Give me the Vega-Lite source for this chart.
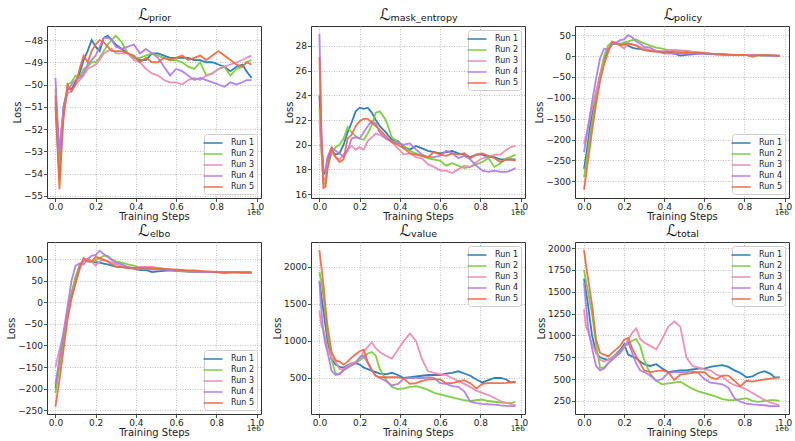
{
  "$schema": "https://vega.github.io/schema/vega-lite/v6.json",
  "autosize": {"type": "pad"},
  "padding": {"left": 6, "top": 6, "right": 5, "bottom": 5},
  "background": "white",
  "config": {
    "font": "DejaVu Sans",
    "view": {"stroke": "#333", "strokeWidth": 1},
    "axis": {
      "labelFont": "DejaVu Sans", "labelFontSize": 9, "labelColor": "#222",
      "titleFont": "DejaVu Sans", "titleFontSize": 10, "titleFontWeight": "normal", "titleColor": "#222",
      "tickColor": "#222", "tickSize": 3.5, "tickWidth": 0.8, "domain": false,
      "grid": true, "gridColor": "#b0b0b0", "gridDash": [1, 1.5], "gridWidth": 0.8,
      "labelPadding": 1, "labelOverlap": false, "labelFlush": false, "tickCount": 20
    },
    "axisX": {"titlePadding": 0},
    "axisY": {"titlePadding": 1},
    "legend": {
      "title": null, "symbolType": "M-1.9,0H1.9", "symbolSize": 100, "symbolStrokeWidth": 1.6,
      "symbolOpacity": 0.8, "labelFont": "DejaVu Sans", "labelFontSize": 8, "labelColor": "#222",
      "rowPadding": 1, "padding": 3, "fillColor": "rgba(255,255,255,0.85)", "strokeColor": "#ccc",
      "cornerRadius": 3, "labelOffset": 12, "offset": 4
    },
    "title": {
      "font": "DejaVu Sans", "fontSize": 16, "fontWeight": "normal", "color": "#111",
      "subtitleFont": "DejaVu Sans", "subtitleFontSize": 9.5, "subtitleColor": "#111",
      "subtitlePadding": -10, "offset": 3, "anchor": "middle"
    },
    "line": {"strokeWidth": 1.8, "opacity": 0.95}
  },
  "datasets": {
    "prior": [
      {"s":0,"Run 1":-51.0,"Run 2":-50.2,"Run 3":-50.8,"Run 4":-49.7,"Run 5":-50.5},
      {"s":10000,"Run 1":-52.5,"Run 2":-52.0,"Run 3":-51.8,"Run 4":-51.5,"Run 5":-52.8},
      {"s":20000,"Run 1":-54.2,"Run 2":-53.7,"Run 3":-53.0,"Run 4":-53.2,"Run 5":-54.7},
      {"s":30000,"Run 1":-52.5,"Run 2":-52.3,"Run 3":-52.0,"Run 4":-52.0,"Run 5":-53.0},
      {"s":40000,"Run 1":-51.0,"Run 2":-51.5,"Run 3":-51.2,"Run 4":-51.0,"Run 5":-51.5},
      {"s":60000,"Run 1":-50.2,"Run 2":-50.0,"Run 3":-50.4,"Run 4":-50.3,"Run 5":-50.0},
      {"s":80000,"Run 1":-50.2,"Run 2":-49.9,"Run 3":-50.3,"Run 4":-50.0,"Run 5":-50.3},
      {"s":100000,"Run 1":-49.9,"Run 2":-49.6,"Run 3":-50.0,"Run 4":-49.8,"Run 5":-50.0},
      {"s":120000,"Run 1":-49.5,"Run 2":-49.7,"Run 3":-49.8,"Run 4":-49.7,"Run 5":-49.3},
      {"s":140000,"Run 1":-48.9,"Run 2":-49.3,"Run 3":-49.6,"Run 4":-49.5,"Run 5":-48.7},
      {"s":160000,"Run 1":-48.5,"Run 2":-49.2,"Run 3":-49.3,"Run 4":-49.1,"Run 5":-49.0},
      {"s":180000,"Run 1":-48.0,"Run 2":-49.0,"Run 3":-49.2,"Run 4":-48.9,"Run 5":-48.5},
      {"s":200000,"Run 1":-48.3,"Run 2":-49.0,"Run 3":-49.1,"Run 4":-48.7,"Run 5":-48.2},
      {"s":220000,"Run 1":-48.5,"Run 2":-48.8,"Run 3":-48.9,"Run 4":-48.3,"Run 5":-48.0},
      {"s":240000,"Run 1":-47.9,"Run 2":-48.5,"Run 3":-48.6,"Run 4":-47.9,"Run 5":-48.1},
      {"s":260000,"Run 1":-47.8,"Run 2":-48.2,"Run 3":-48.5,"Run 4":-47.9,"Run 5":-48.3},
      {"s":280000,"Run 1":-48.0,"Run 2":-48.0,"Run 3":-48.4,"Run 4":-48.0,"Run 5":-48.5},
      {"s":300000,"Run 1":-48.2,"Run 2":-47.8,"Run 3":-48.6,"Run 4":-48.3,"Run 5":-48.5},
      {"s":330000,"Run 1":-48.4,"Run 2":-48.1,"Run 3":-48.6,"Run 4":-48.4,"Run 5":-48.5},
      {"s":360000,"Run 1":-48.6,"Run 2":-48.6,"Run 3":-48.6,"Run 4":-48.3,"Run 5":-48.6},
      {"s":390000,"Run 1":-48.8,"Run 2":-48.8,"Run 3":-48.9,"Run 4":-48.2,"Run 5":-48.7},
      {"s":420000,"Run 1":-48.9,"Run 2":-48.8,"Run 3":-49.0,"Run 4":-48.6,"Run 5":-49.0},
      {"s":450000,"Run 1":-48.9,"Run 2":-48.7,"Run 3":-49.3,"Run 4":-48.4,"Run 5":-48.8},
      {"s":480000,"Run 1":-48.6,"Run 2":-48.6,"Run 3":-49.5,"Run 4":-48.6,"Run 5":-49.0},
      {"s":510000,"Run 1":-48.6,"Run 2":-48.7,"Run 3":-49.6,"Run 4":-48.8,"Run 5":-49.0},
      {"s":540000,"Run 1":-48.7,"Run 2":-48.8,"Run 3":-49.8,"Run 4":-49.2,"Run 5":-48.8},
      {"s":570000,"Run 1":-48.8,"Run 2":-48.9,"Run 3":-49.9,"Run 4":-49.6,"Run 5":-48.9},
      {"s":600000,"Run 1":-48.8,"Run 2":-48.9,"Run 3":-49.9,"Run 4":-49.3,"Run 5":-48.8},
      {"s":630000,"Run 1":-48.8,"Run 2":-49.0,"Run 3":-50.0,"Run 4":-49.4,"Run 5":-48.7},
      {"s":660000,"Run 1":-48.8,"Run 2":-49.2,"Run 3":-49.8,"Run 4":-49.6,"Run 5":-48.9},
      {"s":690000,"Run 1":-48.9,"Run 2":-49.3,"Run 3":-49.7,"Run 4":-49.8,"Run 5":-48.8},
      {"s":720000,"Run 1":-48.9,"Run 2":-49.0,"Run 3":-49.8,"Run 4":-49.7,"Run 5":-48.7},
      {"s":750000,"Run 1":-49.0,"Run 2":-49.6,"Run 3":-49.6,"Run 4":-49.8,"Run 5":-48.9},
      {"s":780000,"Run 1":-49.0,"Run 2":-49.5,"Run 3":-49.5,"Run 4":-49.9,"Run 5":-48.7},
      {"s":810000,"Run 1":-49.1,"Run 2":-49.3,"Run 3":-49.3,"Run 4":-50.0,"Run 5":-48.5},
      {"s":840000,"Run 1":-49.2,"Run 2":-49.2,"Run 3":-49.2,"Run 4":-50.1,"Run 5":-48.7},
      {"s":870000,"Run 1":-49.4,"Run 2":-49.6,"Run 3":-49.1,"Run 4":-49.9,"Run 5":-48.9},
      {"s":900000,"Run 1":-49.2,"Run 2":-49.3,"Run 3":-49.0,"Run 4":-50.0,"Run 5":-49.1},
      {"s":930000,"Run 1":-49.1,"Run 2":-49.2,"Run 3":-48.9,"Run 4":-49.9,"Run 5":-49.2},
      {"s":950000,"Run 1":-49.4,"Run 2":-49.0,"Run 3":-48.8,"Run 4":-49.8,"Run 5":-49.0},
      {"s":975000,"Run 1":-49.7,"Run 2":-48.9,"Run 3":-48.7,"Run 4":-49.8,"Run 5":-49.1}
    ],
    "mask": [
      {"s":0,"Run 1":24.0,"Run 2":23.0,"Run 3":22.0,"Run 4":29.0,"Run 5":27.1},
      {"s":10000,"Run 1":20.0,"Run 2":19.5,"Run 3":19.5,"Run 4":21.0,"Run 5":20.5},
      {"s":20000,"Run 1":17.6,"Run 2":16.8,"Run 3":17.0,"Run 4":17.8,"Run 5":16.5},
      {"s":30000,"Run 1":17.8,"Run 2":16.9,"Run 3":17.4,"Run 4":18.0,"Run 5":16.6},
      {"s":40000,"Run 1":18.8,"Run 2":18.2,"Run 3":18.5,"Run 4":19.0,"Run 5":18.0},
      {"s":60000,"Run 1":19.5,"Run 2":19.3,"Run 3":19.4,"Run 4":19.8,"Run 5":19.7},
      {"s":80000,"Run 1":19.2,"Run 2":19.8,"Run 3":19.0,"Run 4":19.5,"Run 5":19.0},
      {"s":100000,"Run 1":19.3,"Run 2":20.0,"Run 3":18.8,"Run 4":19.3,"Run 5":18.6},
      {"s":120000,"Run 1":20.0,"Run 2":20.5,"Run 3":19.2,"Run 4":19.0,"Run 5":18.8},
      {"s":140000,"Run 1":21.0,"Run 2":21.4,"Run 3":19.6,"Run 4":19.5,"Run 5":20.5},
      {"s":160000,"Run 1":21.8,"Run 2":21.0,"Run 3":19.9,"Run 4":20.5,"Run 5":20.8},
      {"s":180000,"Run 1":22.7,"Run 2":20.7,"Run 3":19.6,"Run 4":20.6,"Run 5":21.5},
      {"s":200000,"Run 1":23.0,"Run 2":20.5,"Run 3":19.8,"Run 4":20.5,"Run 5":21.9},
      {"s":220000,"Run 1":22.9,"Run 2":20.4,"Run 3":19.6,"Run 4":21.0,"Run 5":22.1},
      {"s":240000,"Run 1":23.0,"Run 2":20.9,"Run 3":20.3,"Run 4":21.5,"Run 5":22.1},
      {"s":260000,"Run 1":22.6,"Run 2":21.6,"Run 3":20.6,"Run 4":21.9,"Run 5":21.8},
      {"s":280000,"Run 1":22.0,"Run 2":22.6,"Run 3":20.9,"Run 4":21.7,"Run 5":21.5},
      {"s":300000,"Run 1":21.5,"Run 2":22.7,"Run 3":20.8,"Run 4":21.0,"Run 5":21.2},
      {"s":330000,"Run 1":21.0,"Run 2":22.0,"Run 3":20.5,"Run 4":20.5,"Run 5":20.7},
      {"s":360000,"Run 1":20.4,"Run 2":20.6,"Run 3":20.2,"Run 4":20.3,"Run 5":20.2},
      {"s":390000,"Run 1":20.3,"Run 2":20.2,"Run 3":19.7,"Run 4":20.1,"Run 5":20.0},
      {"s":420000,"Run 1":19.8,"Run 2":19.9,"Run 3":19.2,"Run 4":20.0,"Run 5":19.7},
      {"s":450000,"Run 1":19.6,"Run 2":19.5,"Run 3":19.3,"Run 4":20.1,"Run 5":19.3},
      {"s":480000,"Run 1":19.9,"Run 2":19.3,"Run 3":19.0,"Run 4":19.6,"Run 5":19.2},
      {"s":510000,"Run 1":19.7,"Run 2":19.1,"Run 3":18.9,"Run 4":19.2,"Run 5":19.1},
      {"s":540000,"Run 1":19.5,"Run 2":18.9,"Run 3":18.4,"Run 4":19.0,"Run 5":19.0},
      {"s":570000,"Run 1":19.4,"Run 2":18.8,"Run 3":18.2,"Run 4":19.0,"Run 5":19.4},
      {"s":600000,"Run 1":19.3,"Run 2":18.7,"Run 3":17.9,"Run 4":19.1,"Run 5":19.2},
      {"s":630000,"Run 1":19.4,"Run 2":18.3,"Run 3":17.9,"Run 4":19.5,"Run 5":19.1},
      {"s":660000,"Run 1":19.5,"Run 2":18.5,"Run 3":17.7,"Run 4":19.3,"Run 5":19.3},
      {"s":690000,"Run 1":19.3,"Run 2":18.3,"Run 3":18.0,"Run 4":18.9,"Run 5":19.2},
      {"s":720000,"Run 1":19.2,"Run 2":18.1,"Run 3":18.3,"Run 4":19.1,"Run 5":19.3},
      {"s":750000,"Run 1":19.0,"Run 2":18.2,"Run 3":18.2,"Run 4":18.8,"Run 5":18.9},
      {"s":780000,"Run 1":19.2,"Run 2":18.4,"Run 3":18.6,"Run 4":18.3,"Run 5":19.2},
      {"s":810000,"Run 1":19.2,"Run 2":18.6,"Run 3":18.9,"Run 4":17.9,"Run 5":19.3},
      {"s":840000,"Run 1":19.0,"Run 2":18.9,"Run 3":19.0,"Run 4":17.8,"Run 5":19.1},
      {"s":870000,"Run 1":19.0,"Run 2":18.2,"Run 3":19.2,"Run 4":17.9,"Run 5":18.9},
      {"s":900000,"Run 1":18.8,"Run 2":18.5,"Run 3":19.2,"Run 4":17.8,"Run 5":18.6},
      {"s":930000,"Run 1":18.8,"Run 2":18.9,"Run 3":19.6,"Run 4":17.8,"Run 5":18.8},
      {"s":950000,"Run 1":18.8,"Run 2":19.0,"Run 3":19.8,"Run 4":17.9,"Run 5":18.8},
      {"s":975000,"Run 1":18.8,"Run 2":19.2,"Run 3":19.9,"Run 4":18.1,"Run 5":18.7}
    ],
    "policy": [
      {"s":0,"Run 1":-270,"Run 2":-290,"Run 3":-210,"Run 4":-230,"Run 5":-320},
      {"s":10000,"Run 1":-240,"Run 2":-260,"Run 3":-190,"Run 4":-200,"Run 5":-285},
      {"s":20000,"Run 1":-205,"Run 2":-225,"Run 3":-170,"Run 4":-170,"Run 5":-250},
      {"s":30000,"Run 1":-170,"Run 2":-190,"Run 3":-150,"Run 4":-140,"Run 5":-215},
      {"s":40000,"Run 1":-140,"Run 2":-160,"Run 3":-125,"Run 4":-110,"Run 5":-180},
      {"s":60000,"Run 1":-90,"Run 2":-100,"Run 3":-85,"Run 4":-55,"Run 5":-115},
      {"s":80000,"Run 1":-45,"Run 2":-45,"Run 3":-50,"Run 4":-5,"Run 5":-60},
      {"s":100000,"Run 1":-10,"Run 2":0,"Run 3":-15,"Run 4":18,"Run 5":-20},
      {"s":120000,"Run 1":15,"Run 2":25,"Run 3":10,"Run 4":15,"Run 5":10},
      {"s":140000,"Run 1":28,"Run 2":33,"Run 3":33,"Run 4":28,"Run 5":35},
      {"s":160000,"Run 1":30,"Run 2":30,"Run 3":33,"Run 4":32,"Run 5":30},
      {"s":180000,"Run 1":30,"Run 2":28,"Run 3":25,"Run 4":38,"Run 5":25},
      {"s":200000,"Run 1":28,"Run 2":33,"Run 3":18,"Run 4":40,"Run 5":28},
      {"s":220000,"Run 1":25,"Run 2":35,"Run 3":30,"Run 4":50,"Run 5":30},
      {"s":240000,"Run 1":20,"Run 2":38,"Run 3":28,"Run 4":45,"Run 5":28},
      {"s":260000,"Run 1":18,"Run 2":40,"Run 3":25,"Run 4":35,"Run 5":25},
      {"s":280000,"Run 1":17,"Run 2":35,"Run 3":22,"Run 4":30,"Run 5":18},
      {"s":300000,"Run 1":15,"Run 2":30,"Run 3":18,"Run 4":22,"Run 5":14},
      {"s":330000,"Run 1":13,"Run 2":25,"Run 3":15,"Run 4":20,"Run 5":12},
      {"s":360000,"Run 1":12,"Run 2":20,"Run 3":13,"Run 4":12,"Run 5":10},
      {"s":390000,"Run 1":10,"Run 2":18,"Run 3":12,"Run 4":7,"Run 5":10},
      {"s":420000,"Run 1":10,"Run 2":14,"Run 3":13,"Run 4":6,"Run 5":10},
      {"s":450000,"Run 1":6,"Run 2":14,"Run 3":14,"Run 4":6,"Run 5":10},
      {"s":480000,"Run 1":1,"Run 2":13,"Run 3":13,"Run 4":6,"Run 5":9},
      {"s":510000,"Run 1":3,"Run 2":13,"Run 3":12,"Run 4":6,"Run 5":9},
      {"s":540000,"Run 1":4,"Run 2":10,"Run 3":10,"Run 4":6,"Run 5":8},
      {"s":570000,"Run 1":6,"Run 2":8,"Run 3":9,"Run 4":6,"Run 5":8},
      {"s":600000,"Run 1":6,"Run 2":7,"Run 3":8,"Run 4":6,"Run 5":7},
      {"s":630000,"Run 1":5,"Run 2":5,"Run 3":6,"Run 4":5,"Run 5":6},
      {"s":660000,"Run 1":4,"Run 2":4,"Run 3":5,"Run 4":4,"Run 5":5},
      {"s":690000,"Run 1":4,"Run 2":3,"Run 3":4,"Run 4":4,"Run 5":4},
      {"s":720000,"Run 1":3,"Run 2":2,"Run 3":3,"Run 4":3,"Run 5":4},
      {"s":750000,"Run 1":3,"Run 2":2,"Run 3":3,"Run 4":2,"Run 5":3},
      {"s":780000,"Run 1":3,"Run 2":2,"Run 3":2,"Run 4":2,"Run 5":3},
      {"s":810000,"Run 1":2,"Run 2":2,"Run 3":2,"Run 4":2,"Run 5":3},
      {"s":840000,"Run 1":2,"Run 2":2,"Run 3":2,"Run 4":2,"Run 5":-2},
      {"s":870000,"Run 1":2,"Run 2":1,"Run 3":2,"Run 4":2,"Run 5":3},
      {"s":900000,"Run 1":1,"Run 2":1,"Run 3":1,"Run 4":2,"Run 5":2},
      {"s":930000,"Run 1":1,"Run 2":1,"Run 3":1,"Run 4":1,"Run 5":2},
      {"s":950000,"Run 1":1,"Run 2":1,"Run 3":1,"Run 4":1,"Run 5":1},
      {"s":975000,"Run 1":1,"Run 2":0,"Run 3":1,"Run 4":1,"Run 5":0}
    ],
    "elbo": [
      {"s":0,"Run 1":-200,"Run 2":-210,"Run 3":-150,"Run 4":-190,"Run 5":-242},
      {"s":10000,"Run 1":-170,"Run 2":-180,"Run 3":-130,"Run 4":-160,"Run 5":-210},
      {"s":20000,"Run 1":-140,"Run 2":-150,"Run 3":-110,"Run 4":-130,"Run 5":-180},
      {"s":30000,"Run 1":-110,"Run 2":-120,"Run 3":-90,"Run 4":-100,"Run 5":-145},
      {"s":40000,"Run 1":-80,"Run 2":-90,"Run 3":-70,"Run 4":-70,"Run 5":-110},
      {"s":60000,"Run 1":-20,"Run 2":-30,"Run 3":-30,"Run 4":-10,"Run 5":-40},
      {"s":80000,"Run 1":20,"Run 2":20,"Run 3":10,"Run 4":50,"Run 5":10},
      {"s":100000,"Run 1":55,"Run 2":60,"Run 3":45,"Run 4":85,"Run 5":45},
      {"s":120000,"Run 1":85,"Run 2":85,"Run 3":75,"Run 4":90,"Run 5":80},
      {"s":140000,"Run 1":98,"Run 2":98,"Run 3":98,"Run 4":88,"Run 5":103},
      {"s":160000,"Run 1":100,"Run 2":95,"Run 3":100,"Run 4":100,"Run 5":95},
      {"s":180000,"Run 1":95,"Run 2":93,"Run 3":95,"Run 4":108,"Run 5":95},
      {"s":200000,"Run 1":93,"Run 2":98,"Run 3":85,"Run 4":110,"Run 5":105},
      {"s":220000,"Run 1":92,"Run 2":102,"Run 3":95,"Run 4":120,"Run 5":103},
      {"s":240000,"Run 1":90,"Run 2":108,"Run 3":100,"Run 4":112,"Run 5":98},
      {"s":260000,"Run 1":88,"Run 2":108,"Run 3":95,"Run 4":105,"Run 5":95},
      {"s":280000,"Run 1":85,"Run 2":100,"Run 3":92,"Run 4":98,"Run 5":88},
      {"s":300000,"Run 1":83,"Run 2":95,"Run 3":88,"Run 4":92,"Run 5":83},
      {"s":330000,"Run 1":82,"Run 2":92,"Run 3":84,"Run 4":88,"Run 5":82},
      {"s":360000,"Run 1":80,"Run 2":88,"Run 3":82,"Run 4":82,"Run 5":80},
      {"s":390000,"Run 1":78,"Run 2":85,"Run 3":80,"Run 4":78,"Run 5":80},
      {"s":420000,"Run 1":75,"Run 2":80,"Run 3":82,"Run 4":77,"Run 5":80},
      {"s":450000,"Run 1":75,"Run 2":80,"Run 3":83,"Run 4":77,"Run 5":80},
      {"s":480000,"Run 1":70,"Run 2":80,"Run 3":82,"Run 4":76,"Run 5":79},
      {"s":510000,"Run 1":72,"Run 2":80,"Run 3":80,"Run 4":76,"Run 5":78},
      {"s":540000,"Run 1":73,"Run 2":78,"Run 3":77,"Run 4":76,"Run 5":77},
      {"s":570000,"Run 1":74,"Run 2":76,"Run 3":75,"Run 4":75,"Run 5":77},
      {"s":600000,"Run 1":73,"Run 2":74,"Run 3":74,"Run 4":74,"Run 5":76},
      {"s":630000,"Run 1":72,"Run 2":73,"Run 3":73,"Run 4":73,"Run 5":75},
      {"s":660000,"Run 1":72,"Run 2":71,"Run 3":72,"Run 4":72,"Run 5":74},
      {"s":690000,"Run 1":71,"Run 2":71,"Run 3":72,"Run 4":71,"Run 5":74},
      {"s":720000,"Run 1":71,"Run 2":70,"Run 3":71,"Run 4":71,"Run 5":73},
      {"s":750000,"Run 1":70,"Run 2":70,"Run 3":70,"Run 4":70,"Run 5":72},
      {"s":780000,"Run 1":70,"Run 2":70,"Run 3":70,"Run 4":70,"Run 5":71},
      {"s":810000,"Run 1":70,"Run 2":70,"Run 3":69,"Run 4":70,"Run 5":70},
      {"s":840000,"Run 1":70,"Run 2":69,"Run 3":69,"Run 4":70,"Run 5":68},
      {"s":870000,"Run 1":70,"Run 2":70,"Run 3":70,"Run 4":70,"Run 5":69},
      {"s":900000,"Run 1":70,"Run 2":70,"Run 3":69,"Run 4":70,"Run 5":70},
      {"s":930000,"Run 1":70,"Run 2":69,"Run 3":70,"Run 4":69,"Run 5":69},
      {"s":950000,"Run 1":69,"Run 2":69,"Run 3":69,"Run 4":69,"Run 5":70},
      {"s":975000,"Run 1":69,"Run 2":68,"Run 3":68,"Run 4":69,"Run 5":70}
    ],
    "value": [
      {"s":0,"Run 1":1800,"Run 2":1930,"Run 3":1400,"Run 4":1800,"Run 5":2220},
      {"s":10000,"Run 1":1600,"Run 2":1780,"Run 3":1200,"Run 4":1400,"Run 5":1980},
      {"s":20000,"Run 1":1400,"Run 2":1600,"Run 3":1150,"Run 4":1100,"Run 5":1750},
      {"s":30000,"Run 1":1200,"Run 2":1350,"Run 3":1020,"Run 4":950,"Run 5":1450},
      {"s":40000,"Run 1":1000,"Run 2":1100,"Run 3":900,"Run 4":850,"Run 5":1200},
      {"s":60000,"Run 1":750,"Run 2":750,"Run 3":780,"Run 4":600,"Run 5":850},
      {"s":80000,"Run 1":680,"Run 2":560,"Run 3":720,"Run 4":540,"Run 5":740},
      {"s":100000,"Run 1":650,"Run 2":560,"Run 3":620,"Run 4":550,"Run 5":720},
      {"s":120000,"Run 1":640,"Run 2":610,"Run 3":620,"Run 4":600,"Run 5":680},
      {"s":140000,"Run 1":670,"Run 2":645,"Run 3":660,"Run 4":635,"Run 5":720},
      {"s":160000,"Run 1":695,"Run 2":675,"Run 3":695,"Run 4":670,"Run 5":775},
      {"s":180000,"Run 1":700,"Run 2":700,"Run 3":720,"Run 4":700,"Run 5":820},
      {"s":200000,"Run 1":680,"Run 2":740,"Run 3":760,"Run 4":780,"Run 5":860},
      {"s":220000,"Run 1":640,"Run 2":780,"Run 3":850,"Run 4":800,"Run 5":880},
      {"s":240000,"Run 1":620,"Run 2":830,"Run 3":920,"Run 4":700,"Run 5":720},
      {"s":260000,"Run 1":600,"Run 2":850,"Run 3":980,"Run 4":600,"Run 5":610},
      {"s":280000,"Run 1":580,"Run 2":800,"Run 3":900,"Run 4":530,"Run 5":530},
      {"s":300000,"Run 1":560,"Run 2":620,"Run 3":850,"Run 4":500,"Run 5":510},
      {"s":330000,"Run 1":550,"Run 2":480,"Run 3":800,"Run 4":460,"Run 5":510},
      {"s":360000,"Run 1":570,"Run 2":380,"Run 3":760,"Run 4":400,"Run 5":510},
      {"s":390000,"Run 1":540,"Run 2":350,"Run 3":880,"Run 4":420,"Run 5":510},
      {"s":420000,"Run 1":500,"Run 2":360,"Run 3":1000,"Run 4":490,"Run 5":490},
      {"s":450000,"Run 1":510,"Run 2":380,"Run 3":1100,"Run 4":500,"Run 5":420},
      {"s":480000,"Run 1":520,"Run 2":390,"Run 3":1000,"Run 4":500,"Run 5":430},
      {"s":510000,"Run 1":530,"Run 2":370,"Run 3":750,"Run 4":500,"Run 5":460},
      {"s":540000,"Run 1":540,"Run 2":340,"Run 3":590,"Run 4":510,"Run 5":480},
      {"s":570000,"Run 1":540,"Run 2":300,"Run 3":570,"Run 4":500,"Run 5":480},
      {"s":600000,"Run 1":540,"Run 2":280,"Run 3":550,"Run 4":430,"Run 5":480},
      {"s":630000,"Run 1":560,"Run 2":260,"Run 3":540,"Run 4":420,"Run 5":430},
      {"s":660000,"Run 1":570,"Run 2":240,"Run 3":500,"Run 4":390,"Run 5":430},
      {"s":690000,"Run 1":590,"Run 2":220,"Run 3":460,"Run 4":380,"Run 5":450},
      {"s":720000,"Run 1":560,"Run 2":200,"Run 3":420,"Run 4":320,"Run 5":470},
      {"s":750000,"Run 1":530,"Run 2":190,"Run 3":380,"Run 4":180,"Run 5":430},
      {"s":780000,"Run 1":480,"Run 2":200,"Run 3":330,"Run 4":160,"Run 5":360},
      {"s":810000,"Run 1":440,"Run 2":210,"Run 3":300,"Run 4":150,"Run 5":420},
      {"s":840000,"Run 1":470,"Run 2":190,"Run 3":270,"Run 4":145,"Run 5":430},
      {"s":870000,"Run 1":500,"Run 2":180,"Run 3":230,"Run 4":140,"Run 5":430},
      {"s":900000,"Run 1":500,"Run 2":170,"Run 3":190,"Run 4":130,"Run 5":430},
      {"s":930000,"Run 1":480,"Run 2":165,"Run 3":165,"Run 4":125,"Run 5":435},
      {"s":950000,"Run 1":440,"Run 2":160,"Run 3":150,"Run 4":120,"Run 5":440},
      {"s":975000,"Run 1":440,"Run 2":180,"Run 3":130,"Run 4":120,"Run 5":450}
    ],
    "total": [
      {"s":0,"Run 1":1650,"Run 2":1750,"Run 3":1300,"Run 4":1600,"Run 5":1980},
      {"s":10000,"Run 1":1500,"Run 2":1620,"Run 3":1100,"Run 4":1350,"Run 5":1800},
      {"s":20000,"Run 1":1350,"Run 2":1500,"Run 3":1050,"Run 4":1100,"Run 5":1650},
      {"s":30000,"Run 1":1170,"Run 2":1370,"Run 3":970,"Run 4":970,"Run 5":1500},
      {"s":40000,"Run 1":1000,"Run 2":1250,"Run 3":900,"Run 4":850,"Run 5":1350},
      {"s":60000,"Run 1":800,"Run 2":900,"Run 3":800,"Run 4":650,"Run 5":950},
      {"s":80000,"Run 1":750,"Run 2":630,"Run 3":720,"Run 4":600,"Run 5":800},
      {"s":100000,"Run 1":730,"Run 2":630,"Run 3":700,"Run 4":620,"Run 5":780},
      {"s":120000,"Run 1":720,"Run 2":680,"Run 3":720,"Run 4":680,"Run 5":760},
      {"s":140000,"Run 1":745,"Run 2":725,"Run 3":745,"Run 4":720,"Run 5":800},
      {"s":160000,"Run 1":785,"Run 2":775,"Run 3":775,"Run 4":760,"Run 5":840},
      {"s":180000,"Run 1":830,"Run 2":820,"Run 3":800,"Run 4":800,"Run 5":880},
      {"s":200000,"Run 1":900,"Run 2":880,"Run 3":860,"Run 4":880,"Run 5":950},
      {"s":220000,"Run 1":780,"Run 2":900,"Run 3":950,"Run 4":920,"Run 5":970},
      {"s":240000,"Run 1":760,"Run 2":940,"Run 3":1030,"Run 4":800,"Run 5":850},
      {"s":260000,"Run 1":740,"Run 2":960,"Run 3":1080,"Run 4":680,"Run 5":760},
      {"s":280000,"Run 1":700,"Run 2":880,"Run 3":960,"Run 4":600,"Run 5":680},
      {"s":300000,"Run 1":670,"Run 2":720,"Run 3":920,"Run 4":580,"Run 5":600},
      {"s":330000,"Run 1":650,"Run 2":560,"Run 3":880,"Run 4":540,"Run 5":580},
      {"s":360000,"Run 1":670,"Run 2":480,"Run 3":840,"Run 4":480,"Run 5":590},
      {"s":390000,"Run 1":620,"Run 2":440,"Run 3":960,"Run 4":500,"Run 5":600},
      {"s":420000,"Run 1":580,"Run 2":450,"Run 3":1100,"Run 4":570,"Run 5":580},
      {"s":450000,"Run 1":590,"Run 2":460,"Run 3":1160,"Run 4":580,"Run 5":490},
      {"s":480000,"Run 1":600,"Run 2":470,"Run 3":1100,"Run 4":580,"Run 5":550},
      {"s":510000,"Run 1":600,"Run 2":430,"Run 3":750,"Run 4":580,"Run 5":560},
      {"s":540000,"Run 1":610,"Run 2":390,"Run 3":650,"Run 4":590,"Run 5":570},
      {"s":570000,"Run 1":620,"Run 2":360,"Run 3":630,"Run 4":570,"Run 5":580},
      {"s":600000,"Run 1":620,"Run 2":340,"Run 3":610,"Run 4":500,"Run 5":580},
      {"s":630000,"Run 1":640,"Run 2":320,"Run 3":600,"Run 4":460,"Run 5":520},
      {"s":660000,"Run 1":650,"Run 2":300,"Run 3":550,"Run 4":450,"Run 5":500},
      {"s":690000,"Run 1":660,"Run 2":270,"Run 3":530,"Run 4":440,"Run 5":540},
      {"s":720000,"Run 1":640,"Run 2":260,"Run 3":470,"Run 4":400,"Run 5":540},
      {"s":750000,"Run 1":600,"Run 2":260,"Run 3":430,"Run 4":280,"Run 5":480},
      {"s":780000,"Run 1":570,"Run 2":270,"Run 3":410,"Run 4":240,"Run 5":420},
      {"s":810000,"Run 1":520,"Run 2":280,"Run 3":380,"Run 4":220,"Run 5":480},
      {"s":840000,"Run 1":530,"Run 2":250,"Run 3":340,"Run 4":210,"Run 5":470},
      {"s":870000,"Run 1":570,"Run 2":240,"Run 3":300,"Run 4":205,"Run 5":485},
      {"s":900000,"Run 1":590,"Run 2":250,"Run 3":260,"Run 4":200,"Run 5":495},
      {"s":930000,"Run 1":560,"Run 2":260,"Run 3":230,"Run 4":190,"Run 5":505},
      {"s":950000,"Run 1":520,"Run 2":260,"Run 3":220,"Run 4":190,"Run 5":510},
      {"s":975000,"Run 1":520,"Run 2":250,"Run 3":200,"Run 4":190,"Run 5":520}
    ]
  },
  "columns": 3,
  "bounds": "flush",
  "spacing": {"row": 44, "column": 50},
  "resolve": {
    "scale": {"x": "independent", "y": "independent", "color": "independent"},
    "legend": {"color": "independent"}
  },
  "concat": [
    {
      "width": 214, "height": 172,
      "title": {"text": "ℒ\u00a0\u00a0\u00a0\u00a0\u200b", "subtitle": "\u200b\u00a0\u00a0\u00a0\u00a0prior"},
      "layer": [
        {
          "data": {"name": "prior"},
          "transform": [{"fold": ["Run 1", "Run 2", "Run 3", "Run 4", "Run 5"], "as": ["run", "loss"]}],
          "mark": {"type": "line"},
          "encoding": {
            "x": {"field": "s", "type": "quantitative", "scale": {"domain": [-42000, 1022000], "nice": false},
                  "axis": {"values": [0, 200000, 400000, 600000, 800000, 1000000], "tickCount": 20, "labelExpr": "format(datum.value / 1e6, '.1f')", "title": "Training Steps"}},
            "y": {"field": "loss", "type": "quantitative", "scale": {"domain": [-55.1, -47.37], "nice": false, "zero": false},
                  "axis": {"values": [-55, -54, -53, -52, -51, -50, -49, -48], "tickCount": 20, "format": "d", "title": "Loss"}},
            "color": {"field": "run", "type": "nominal",
                      "scale": {"domain": ["Run 1", "Run 2", "Run 3", "Run 4", "Run 5"], "range": ["#2778b5", "#79cb3c", "#ea8bb3", "#b17ce5", "#ec6a46"]},
                      "legend": {"orient": "bottom-right"}}
          }
        },
        {
          "data": {"values": [{"t": "1e6"}]},
          "mark": {"type": "text", "align": "right", "baseline": "top", "dy": 11, "fontSize": 7.5, "color": "#222"},
          "encoding": {"x": {"datum": 1022000}, "y": {"datum": -55.1}, "text": {"field": "t"}}
        }
      ]
    },
    {
      "width": 214, "height": 172,
      "title": {"text": "ℒ\u00a0\u00a0\u00a0\u00a0\u00a0\u00a0\u00a0\u00a0\u00a0\u00a0\u00a0\u00a0\u00a0\u200b", "subtitle": "\u200b\u00a0\u00a0\u00a0\u00a0mask_entropy"},
      "layer": [
        {
          "data": {"name": "mask"},
          "transform": [{"fold": ["Run 1", "Run 2", "Run 3", "Run 4", "Run 5"], "as": ["run", "loss"]}],
          "mark": {"type": "line"},
          "encoding": {
            "x": {"field": "s", "type": "quantitative", "scale": {"domain": [-42000, 1022000], "nice": false},
                  "axis": {"values": [0, 200000, 400000, 600000, 800000, 1000000], "tickCount": 20, "labelExpr": "format(datum.value / 1e6, '.1f')", "title": "Training Steps"}},
            "y": {"field": "loss", "type": "quantitative", "scale": {"domain": [15.68, 29.62], "nice": false, "zero": false},
                  "axis": {"values": [16, 18, 20, 22, 24, 26, 28], "tickCount": 20, "format": "d", "title": "Loss"}},
            "color": {"field": "run", "type": "nominal",
                      "scale": {"domain": ["Run 1", "Run 2", "Run 3", "Run 4", "Run 5"], "range": ["#2778b5", "#79cb3c", "#ea8bb3", "#b17ce5", "#ec6a46"]},
                      "legend": {"orient": "top-right"}}
          }
        },
        {
          "data": {"values": [{"t": "1e6"}]},
          "mark": {"type": "text", "align": "right", "baseline": "top", "dy": 11, "fontSize": 7.5, "color": "#222"},
          "encoding": {"x": {"datum": 1022000}, "y": {"datum": 15.68}, "text": {"field": "t"}}
        }
      ]
    },
    {
      "width": 214, "height": 172,
      "title": {"text": "ℒ\u00a0\u00a0\u00a0\u00a0\u00a0\u200b", "subtitle": "\u200b\u00a0\u00a0\u00a0\u00a0policy"},
      "layer": [
        {
          "data": {"name": "policy"},
          "transform": [{"fold": ["Run 1", "Run 2", "Run 3", "Run 4", "Run 5"], "as": ["run", "loss"]}],
          "mark": {"type": "line"},
          "encoding": {
            "x": {"field": "s", "type": "quantitative", "scale": {"domain": [-45000, 1022000], "nice": false},
                  "axis": {"values": [0, 200000, 400000, 600000, 800000, 1000000], "tickCount": 20, "labelExpr": "format(datum.value / 1e6, '.1f')", "title": "Training Steps"}},
            "y": {"field": "loss", "type": "quantitative", "scale": {"domain": [-340, 72], "nice": false, "zero": false},
                  "axis": {"values": [-300, -250, -200, -150, -100, -50, 0, 50], "tickCount": 20, "format": "d", "title": "Loss"}},
            "color": {"field": "run", "type": "nominal",
                      "scale": {"domain": ["Run 1", "Run 2", "Run 3", "Run 4", "Run 5"], "range": ["#2778b5", "#79cb3c", "#ea8bb3", "#b17ce5", "#ec6a46"]},
                      "legend": {"orient": "bottom-right"}}
          }
        },
        {
          "data": {"values": [{"t": "1e6"}]},
          "mark": {"type": "text", "align": "right", "baseline": "top", "dy": 11, "fontSize": 7.5, "color": "#222"},
          "encoding": {"x": {"datum": 1022000}, "y": {"datum": -340}, "text": {"field": "t"}}
        }
      ]
    },
    {
      "width": 214, "height": 172,
      "title": {"text": "ℒ\u00a0\u00a0\u00a0\u00a0\u200b", "subtitle": "\u200b\u00a0\u00a0\u00a0\u00a0elbo"},
      "layer": [
        {
          "data": {"name": "elbo"},
          "transform": [{"fold": ["Run 1", "Run 2", "Run 3", "Run 4", "Run 5"], "as": ["run", "loss"]}],
          "mark": {"type": "line"},
          "encoding": {
            "x": {"field": "s", "type": "quantitative", "scale": {"domain": [-42000, 1022000], "nice": false},
                  "axis": {"values": [0, 200000, 400000, 600000, 800000, 1000000], "tickCount": 20, "labelExpr": "format(datum.value / 1e6, '.1f')", "title": "Training Steps"}},
            "y": {"field": "loss", "type": "quantitative", "scale": {"domain": [-259, 140], "nice": false, "zero": false},
                  "axis": {"values": [-250, -200, -150, -100, -50, 0, 50, 100], "tickCount": 20, "format": "d", "title": "Loss"}},
            "color": {"field": "run", "type": "nominal",
                      "scale": {"domain": ["Run 1", "Run 2", "Run 3", "Run 4", "Run 5"], "range": ["#2778b5", "#79cb3c", "#ea8bb3", "#b17ce5", "#ec6a46"]},
                      "legend": {"orient": "bottom-right"}}
          }
        },
        {
          "data": {"values": [{"t": "1e6"}]},
          "mark": {"type": "text", "align": "right", "baseline": "top", "dy": 11, "fontSize": 7.5, "color": "#222"},
          "encoding": {"x": {"datum": 1022000}, "y": {"datum": -259}, "text": {"field": "t"}}
        }
      ]
    },
    {
      "width": 214, "height": 172,
      "title": {"text": "ℒ\u00a0\u00a0\u00a0\u00a0\u00a0\u200b", "subtitle": "\u200b\u00a0\u00a0\u00a0\u00a0value"},
      "layer": [
        {
          "data": {"name": "value"},
          "transform": [{"fold": ["Run 1", "Run 2", "Run 3", "Run 4", "Run 5"], "as": ["run", "loss"]}],
          "mark": {"type": "line"},
          "encoding": {
            "x": {"field": "s", "type": "quantitative", "scale": {"domain": [-42000, 1022000], "nice": false},
                  "axis": {"values": [0, 200000, 400000, 600000, 800000, 1000000], "tickCount": 20, "labelExpr": "format(datum.value / 1e6, '.1f')", "title": "Training Steps"}},
            "y": {"field": "loss", "type": "quantitative", "scale": {"domain": [15, 2331], "nice": false, "zero": false},
                  "axis": {"values": [500, 1000, 1500, 2000], "tickCount": 20, "format": "d", "title": "Loss"}},
            "color": {"field": "run", "type": "nominal",
                      "scale": {"domain": ["Run 1", "Run 2", "Run 3", "Run 4", "Run 5"], "range": ["#2778b5", "#79cb3c", "#ea8bb3", "#b17ce5", "#ec6a46"]},
                      "legend": {"orient": "top-right"}}
          }
        },
        {
          "data": {"values": [{"t": "1e6"}]},
          "mark": {"type": "text", "align": "right", "baseline": "top", "dy": 11, "fontSize": 7.5, "color": "#222"},
          "encoding": {"x": {"datum": 1022000}, "y": {"datum": 15}, "text": {"field": "t"}}
        }
      ]
    },
    {
      "width": 214, "height": 172,
      "title": {"text": "ℒ\u00a0\u00a0\u00a0\u00a0\u200b", "subtitle": "\u200b\u00a0\u00a0\u00a0\u00a0total"},
      "layer": [
        {
          "data": {"name": "total"},
          "transform": [{"fold": ["Run 1", "Run 2", "Run 3", "Run 4", "Run 5"], "as": ["run", "loss"]}],
          "mark": {"type": "line"},
          "encoding": {
            "x": {"field": "s", "type": "quantitative", "scale": {"domain": [-45000, 1022000], "nice": false},
                  "axis": {"values": [0, 200000, 400000, 600000, 800000, 1000000], "tickCount": 20, "labelExpr": "format(datum.value / 1e6, '.1f')", "title": "Training Steps"}},
            "y": {"field": "loss", "type": "quantitative", "scale": {"domain": [100, 2070], "nice": false, "zero": false},
                  "axis": {"values": [250, 500, 750, 1000, 1250, 1500, 1750, 2000], "tickCount": 20, "format": "d", "title": "Loss"}},
            "color": {"field": "run", "type": "nominal",
                      "scale": {"domain": ["Run 1", "Run 2", "Run 3", "Run 4", "Run 5"], "range": ["#2778b5", "#79cb3c", "#ea8bb3", "#b17ce5", "#ec6a46"]},
                      "legend": {"orient": "top-right"}}
          }
        },
        {
          "data": {"values": [{"t": "1e6"}]},
          "mark": {"type": "text", "align": "right", "baseline": "top", "dy": 11, "fontSize": 7.5, "color": "#222"},
          "encoding": {"x": {"datum": 1022000}, "y": {"datum": 100}, "text": {"field": "t"}}
        }
      ]
    }
  ]
}
